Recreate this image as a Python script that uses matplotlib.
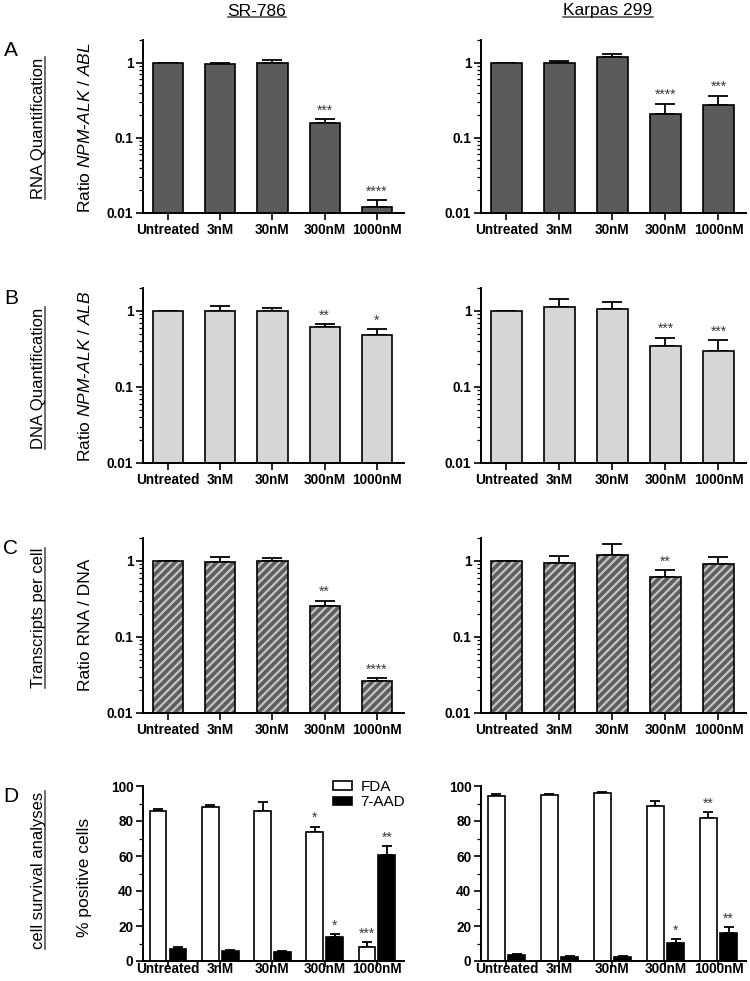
import matplotlib
matplotlib.use("Agg")
import matplotlib.pyplot as plt
import numpy as np
from matplotlib.lines import Line2D

plt.rcParams['font.family'] = ['Liberation Sans', 'DejaVu Sans']
plt.rcParams['mathtext.fontset'] = 'custom'
plt.rcParams['mathtext.rm'] = 'Liberation Sans'
plt.rcParams['mathtext.it'] = 'Liberation Sans:italic'
plt.rcParams['hatch.linewidth'] = 1.6

categories = ["Untreated", "3nM", "30nM", "300nM", "1000nM"]
columns = ["SR-786", "Karpas 299"]

# Panel A: RNA ratio NPM-ALK / ABL
rna_sr = [1.0, 0.97, 0.98, 0.157, 0.0122]
rna_sr_err = [0.0, 0.01, 0.10, 0.021, 0.0025]
rna_sr_sig = ["", "", "", "***", "****"]
rna_kp = [1.0, 1.0, 1.19, 0.207, 0.27]
rna_kp_err = [0.0, 0.05, 0.12, 0.078, 0.094]
rna_kp_sig = ["", "", "", "****", "***"]

# Panel B: DNA ratio NPM-ALK / ALB
dna_sr = [1.0, 1.01, 1.0, 0.62, 0.48]
dna_sr_err = [0.0, 0.15, 0.10, 0.05, 0.10]
dna_sr_sig = ["", "", "", "**", "*"]
dna_kp = [1.0, 1.13, 1.05, 0.35, 0.30]
dna_kp_err = [0.0, 0.32, 0.24, 0.095, 0.11]
dna_kp_sig = ["", "", "", "***", "***"]

# Panel C: ratio RNA / DNA
tpc_sr = [1.0, 0.98, 0.99, 0.253, 0.0264]
tpc_sr_err = [0.0, 0.15, 0.09, 0.047, 0.0026]
tpc_sr_sig = ["", "", "", "**", "****"]
tpc_kp = [1.0, 0.93, 1.21, 0.61, 0.92]
tpc_kp_err = [0.0, 0.22, 0.45, 0.14, 0.21]
tpc_kp_sig = ["", "", "", "**", ""]

# Panel D: % positive cells
fda_sr = [85.7, 88.0, 85.5, 73.7, 8.0]
fda_sr_err = [1.3, 1.3, 5.4, 3.1, 2.9]
fda_sr_sig = ["", "", "", "*", "***"]
aad_sr = [6.7, 5.5, 5.0, 13.7, 60.4]
aad_sr_err = [1.3, 0.8, 0.9, 1.9, 5.1]
aad_sr_sig = ["", "", "", "*", "**"]
fda_kp = [94.1, 94.9, 96.0, 88.8, 81.7]
fda_kp_err = [1.3, 0.5, 0.6, 2.4, 3.3]
fda_kp_sig = ["", "", "", "", "**"]
aad_kp = [3.2, 2.5, 2.3, 10.3, 16.2]
aad_kp_err = [1.0, 0.5, 0.4, 2.3, 3.2]
aad_kp_sig = ["", "", "", "*", "**"]

W, H = 750, 981
fig = plt.figure(figsize=(7.5, 9.81), dpi=100)

def fx(px):
    return px / W

def fy(py):
    return 1 - py / H

col_x = [(143, 404), (481, 746)]
row_y = [(40, 213), (288, 463), (538, 713), (786, 961)]
TICKFS = 9.8

def make_ax(r, c):
    x0, x1 = col_x[c]
    y0, y1 = row_y[r]
    ax = fig.add_axes([fx(x0), fy(y1), (x1 - x0) / W, (y1 - y0) / H])
    for s in ['top', 'right']:
        ax.spines[s].set_visible(False)
    for s in ['left', 'bottom']:
        ax.spines[s].set_linewidth(1.4)
    ax.tick_params(axis='both', which='major', direction='out', length=5, width=1.2,
                   labelsize=TICKFS)
    ax.tick_params(axis='both', which='minor', direction='out', length=3, width=0.9)
    ax.set_xticks(range(len(categories)))
    ax.set_xticklabels(categories, fontweight='bold')
    ax.tick_params(axis='x', pad=2)
    ax.tick_params(axis='y', pad=2)
    ax.set_xlim(-0.48, 4.52)
    return ax

x = np.arange(len(categories))
BW = 0.58

def stars(ax, xs, tops, sigs, size=10):
    for xi, t, s in zip(xs, tops, sigs):
        if s:
            ax.annotate(s, (xi, t), xytext=(0, 1.0), textcoords='offset points',
                        ha='center', va='bottom', fontsize=size, color='#3a3a3a')

def log_panel(r, c, vals, errs, sigs, style):
    ax = make_ax(r, c)
    ax.set_yscale('log')
    ax.set_ylim(0.01, 2.0)
    if style == 'dark':
        ax.bar(x, vals, BW, color='#5b5b5b', edgecolor='black', linewidth=1.2, zorder=2)
    elif style == 'light':
        ax.bar(x, vals, BW, color='#d6d6d6', edgecolor='black', linewidth=1.2, zorder=2)
    else:
        ax.bar(x, vals, BW, color='#5e5e5e', edgecolor='#c4c4c4', hatch='////',
               linewidth=0, zorder=2)
        ax.bar(x, vals, BW, color='none', edgecolor='black', linewidth=1.2, zorder=3)
    ax.errorbar(x, vals, yerr=[np.zeros(len(vals)), errs], fmt='none', ecolor='black',
                elinewidth=1.3, capsize=7, capthick=1.3, zorder=1)
    ax.set_yticks([0.01, 0.1, 1])
    ax.set_yticklabels(['0.01', '0.1', '1'], fontweight='bold')
    ax.yaxis.set_minor_locator(matplotlib.ticker.LogLocator(base=10, subs=np.arange(2, 10)))
    ax.yaxis.set_minor_formatter(matplotlib.ticker.NullFormatter())
    tops = np.array(vals) + np.array(errs)
    stars(ax, x, tops, sigs)
    return ax

log_panel(0, 0, rna_sr, rna_sr_err, rna_sr_sig, 'dark')
log_panel(0, 1, rna_kp, rna_kp_err, rna_kp_sig, 'dark')
log_panel(1, 0, dna_sr, dna_sr_err, dna_sr_sig, 'light')
log_panel(1, 1, dna_kp, dna_kp_err, dna_kp_sig, 'light')
log_panel(2, 0, tpc_sr, tpc_sr_err, tpc_sr_sig, 'hatch')
log_panel(2, 1, tpc_kp, tpc_kp_err, tpc_kp_sig, 'hatch')

def surv_panel(c, fda, fda_e, fda_s, aad, aad_e, aad_s, legend=False):
    ax = make_ax(3, c)
    ax.tick_params(axis='x', which='major', length=4, pad=-3)
    ax.set_ylim(0, 100)
    bw = 0.32
    off = 0.19
    ax.bar(x - off, fda, bw, color='white', edgecolor='black', linewidth=1.2, zorder=2,
           label='FDA')
    ax.bar(x + off, aad, bw, color='black', edgecolor='black', linewidth=1.2, zorder=2,
           label='7-AAD')
    ax.errorbar(x - off, fda, yerr=[np.zeros(5), fda_e], fmt='none', ecolor='black',
                elinewidth=1.3, capsize=3.5, capthick=1.3, zorder=1)
    ax.errorbar(x + off, aad, yerr=[np.zeros(5), aad_e], fmt='none', ecolor='black',
                elinewidth=1.3, capsize=3.5, capthick=1.3, zorder=1)
    ax.set_yticks([0, 20, 40, 60, 80, 100])
    ax.set_yticklabels(['0', '20', '40', '60', '80', '100'], fontweight='bold')
    ax.yaxis.set_minor_locator(matplotlib.ticker.MultipleLocator(10))
    stars(ax, x - off, np.array(fda) + np.array(fda_e), fda_s)
    stars(ax, x + off, np.array(aad) + np.array(aad_e), aad_s)
    if legend:
        ax.legend(loc='upper right', bbox_to_anchor=(1.01, 1.045), frameon=False,
                  fontsize=11, handlelength=1.25, handleheight=0.5, handletextpad=0.55,
                  labelspacing=0.12, borderpad=0.1, borderaxespad=0.0)
    return ax

surv_panel(0, fda_sr, fda_sr_err, fda_sr_sig, aad_sr, aad_sr_err, aad_sr_sig, legend=True)
surv_panel(1, fda_kp, fda_kp_err, fda_kp_sig, aad_kp, aad_kp_err, aad_kp_sig)

# y-axis labels (left column)
ylabels = [r'Ratio $\it{NPM}$-$\it{ALK}$ / $\it{ABL}$',
           r'Ratio $\it{NPM}$-$\it{ALK}$ / $\it{ALB}$',
           'Ratio RNA / DNA',
           '% positive cells']
ylab_cy = [128, 376, 625, 877]
for lab, cy in zip(ylabels, ylab_cy):
    fig.text(fx(85), fy(cy), lab, rotation=90, ha='center', va='center', fontsize=12.5)

# row labels (underlined)
row_labels = ['RNA Quantification', 'DNA Quantification', 'Transcripts per cell',
              'cell survival analyses']
row_cy = [128, 378, 618, 870]
letters = ['A', 'B', 'C', 'D']
letter_cy = [51, 298, 548, 797]

texts = []
for lab, cy in zip(row_labels, row_cy):
    t = fig.text(fx(39), fy(cy), lab, rotation=90, ha='center', va='center', fontsize=12)
    texts.append(t)
for L, cy in zip(letters, letter_cy):
    fig.text(fx(11), fy(cy), L, ha='center', va='center', fontsize=15)

ctexts = []
for name, cx in zip(columns, [257, 608]):
    t = fig.text(fx(cx), fy(11), name, ha='center', va='center', fontsize=12.5)
    ctexts.append(t)

fig.canvas.draw()
renderer = fig.canvas.get_renderer()
for t in texts:
    bb = t.get_window_extent(renderer)
    xl = bb.x1 - 2.0
    fig.add_artist(Line2D([xl / W, xl / W], [bb.y0 / H, bb.y1 / H], color='#555555', lw=1.2))
for t in ctexts:
    bb = t.get_window_extent(renderer)
    yl = bb.y0 + 2.0
    fig.add_artist(Line2D([bb.x0 / W, bb.x1 / W], [yl / H, yl / H], color='#555555', lw=1.2))

fig.savefig('out.png', dpi=100)
